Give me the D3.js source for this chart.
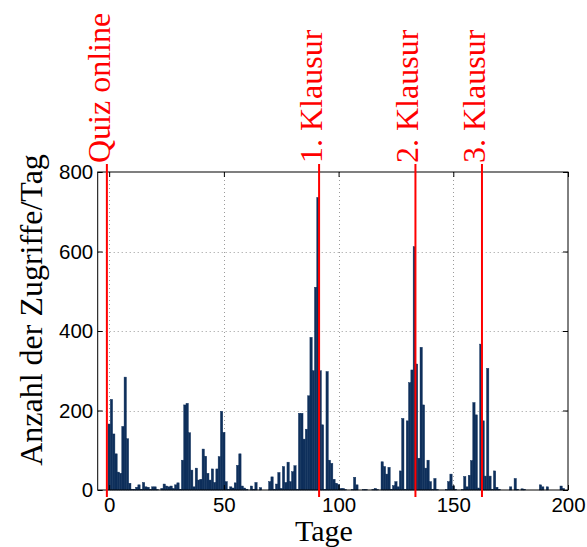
<!DOCTYPE html>
<html><head><meta charset="utf-8">
<script src="https://cdn.jsdelivr.net/npm/d3@7"></script>
<style>body{margin:0;background:#fff}</style>
</head><body><svg id="c" width="587" height="547"></svg>
<script>
// ---- data ----
const days = d3.range(0, 200);
const visits = [
  166, 228, 141, 91, 45, 42, 160, 284, 129, 17,
  2, 2, 7, 13, 2, 19, 8, 7, 2, 8,
  8, 1, 0, 4, 15, 10, 8, 10, 4, 13,
  18, 2, 75, 214, 218, 144, 50, 8, 55, 25,
  27, 103, 85, 42, 25, 53, 19, 53, 84, 198,
  145, 21, 2, 8, 5, 18, 62, 91, 10, 5,
  2, 0, 10, 2, 19, 0, 6, 0, 0, 0,
  21, 33, 2, 15, 44, 4, 59, 19, 70, 21,
  46, 61, 2, 193, 193, 128, 153, 237, 384, 300,
  510, 736, 300, 164, 2, 298, 75, 67, 27, 17,
  14, 4, 4, 1, 0, 0, 1, 32, 13, 0,
  0, 1, 1, 0, 0, 1, 4, 1, 0, 71,
  59, 40, 57, 2, 11, 21, 8, 48, 180, 2,
  174, 270, 302, 612, 317, 80, 359, 214, 55, 75,
  21, 2, 29, 1, 0, 0, 0, 1, 21, 40,
  10, 2, 0, 0, 1, 34, 8, 37, 74, 220,
  189, 5, 367, 174, 35, 306, 35, 2, 48, 7,
  2, 0, 0, 0, 0, 8, 0, 29, 2, 0,
  3, 2, 0, 0, 0, 0, 0, 0, 13, 8,
  0, 8, 0, 0, 0, 0, 0, 10, 4, 0
];
const xTickValues = [0, 50, 100, 150, 200];
const yTickValues = [0, 200, 400, 600, 800];
const eventDays = [-1, 91.5, 133.5, 162.5];
const eventLabels = ["Quiz online", "1. Klausur", "2. Klausur", "3. Klausur"];
const xTitle = "Tage";
const yTitle = "Anzahl der Zugriffe/Tag";

// ---- chart ----
const svg = d3.select("#c");
const L = 97.7, R = 568, T = 172, B = 490;
const x = d3.scaleLinear().domain([-5, 200]).range([L, R]);
const y = d3.scaleLinear().domain([0, 800]).range([B, T]);

// grid
const grid = svg.append("g").attr("stroke", "#9a9a9a").attr("stroke-width", 1)
  .attr("stroke-dasharray", "1,3");
grid.selectAll(".gx").data(xTickValues.filter(v => v < 200)).join("line")
  .attr("x1", d => Math.round(x(d)) + 0.5).attr("x2", d => Math.round(x(d)) + 0.5)
  .attr("y1", T).attr("y2", B);
grid.selectAll(".gy").data(yTickValues.filter(v => v > 0 && v < 800)).join("line")
  .attr("y1", d => Math.round(y(d)) + 0.5).attr("y2", d => Math.round(y(d)) + 0.5)
  .attr("x1", L).attr("x2", R);

// bars
svg.append("g").selectAll("rect").data(days.filter(d => visits[d] > 0)).join("rect")
  .attr("x", d => x(d - 0.5))
  .attr("width", d => x(d + 0.5) - x(d - 0.5))
  .attr("y", d => y(visits[d]))
  .attr("height", d => B - y(visits[d]))
  .attr("fill", "#0e2f5b")
  .attr("stroke", "#0e2f5b").attr("stroke-width", 0.45);

// frame
svg.append("rect").attr("x", L).attr("y", T).attr("width", R - L).attr("height", B - T)
  .attr("fill", "none").attr("stroke", "#000").attr("stroke-width", 1);

// axes
const fontSans = "Liberation Sans, Arial, Helvetica, sans-serif";
const ax = svg.append("g").attr("transform", `translate(0,${B})`)
  .call(d3.axisBottom(x).tickValues(xTickValues).tickSize(-5).tickPadding(7.5));
const axT = svg.append("g").attr("transform", `translate(0,${T})`)
  .call(d3.axisTop(x).tickValues(xTickValues).tickSize(-5).tickFormat(""));
const ay = svg.append("g").attr("transform", `translate(${L},0)`)
  .call(d3.axisLeft(y).tickValues(yTickValues).tickSize(-5).tickPadding(4.5));
const ayR = svg.append("g").attr("transform", `translate(${R},0)`)
  .call(d3.axisRight(y).tickValues(yTickValues).tickSize(-5).tickFormat(""));
[ax, axT, ay, ayR].forEach(g => {
  g.select(".domain").remove();
  g.selectAll("line").attr("stroke", "#000");
  g.selectAll("text").attr("font-family", fontSans).attr("font-size", 20.5).attr("fill", "#000");
});

// event lines
const fontSerif = "Liberation Serif, Times New Roman, serif";
svg.append("g").selectAll("line").data(eventDays).join("line")
  .attr("x1", d => x(d)).attr("x2", d => x(d))
  .attr("y1", 164).attr("y2", 497)
  .attr("stroke", "#ff0000").attr("stroke-width", 2);
svg.append("g").selectAll("text").data(eventDays).join("text")
  .attr("transform", d => `translate(${x(d) + 3},163) rotate(-90)`)
  .attr("font-family", fontSerif).attr("font-size", 32).attr("fill", "#ff0000")
  .text((d, i) => eventLabels[i]);

// titles
svg.append("text").attr("x", 324).attr("y", 541).attr("text-anchor", "middle")
  .attr("font-family", fontSerif).attr("font-size", 30).text(xTitle);
svg.append("text").attr("transform", "translate(42,310) rotate(-90)").attr("text-anchor", "middle")
  .attr("font-family", fontSerif).attr("font-size", 32).text(yTitle);
</script>
</body></html>
